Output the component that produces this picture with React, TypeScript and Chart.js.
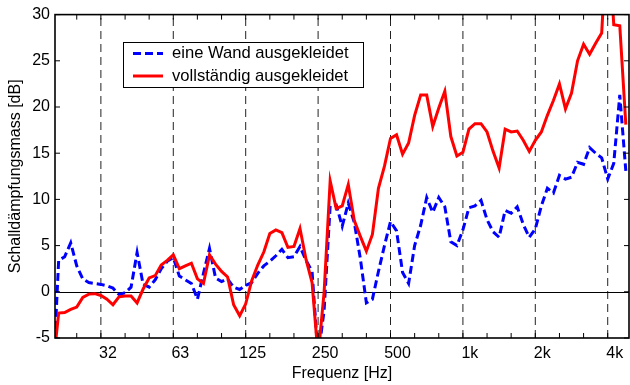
import React, { useEffect, useRef } from "react";
import { Chart, registerables } from "chart.js";

Chart.register(...registerables);

// 1/12-octave band index (relative to 1 kHz) of the first measured point
const FIRST_BAND = -68;
const BAND_STEP = 12; // bands per octave

const eineWand: number[] = [
  -10.5, 3.4, 3.8, 5.3, 2.8, 1.4, 1.0, 0.9, 0.8, 0.65, 0.4, -0.3, -0.1, 0.5, 4.25, 0.8,
  0.5, 1.3, 2.5, 3.3, 3.7, 1.7, 1.3, 0.9, -0.8, 2.0, 4.7, 1.5, 1.1, 1.4, 0.5, 0.25,
  0.7, 1.0, 2.0, 2.8, 3.3, 3.9, 4.6, 3.7, 3.8, 4.9, 3.4, 2.2, -7, -2, 9.3, 9.4,
  7.1, 9.6, 7.5, 3.6, -1.2, -0.8, 2.2, 5.0, 7.6, 6.6, 2.1, 0.9, 5.0, 7.2, 10.2, 8.6,
  10.2, 9.2, 5.4, 5.0, 6.7, 9.1, 9.3, 9.9, 7.8, 6.5, 5.9, 8.8, 8.5, 9.2, 7.3, 5.9,
  6.8, 9.3, 11.2, 10.7, 12.6, 12.2, 12.4, 14.0, 13.8, 15.6, 15.0, 14.5, 12.2, 13.9, 21.3, 13.1,
];

const vollstaendig: number[] = [
  -8.5, -2.3, -2.25, -1.9, -1.65, -0.6, -0.25, -0.2, -0.4, -0.8, -1.4, -0.55, -0.45, -0.45, -1.2, 0.3,
  1.5, 1.75, 2.9, 3.4, 4.0, 2.5, 2.8, 3.1, 1.4, 0.9, 4.0, 3.0, 2.2, 1.6, -1.4, -2.6,
  -1.3, 1.2, 2.9, 4.3, 6.3, 6.7, 6.4, 4.8, 4.9, 6.85, 3.5, 1.0, -7, 0, 12.0, 9.0,
  9.3, 11.6, 7.7, 6.0, 4.4, 6.2, 11.2, 13.6, 16.6, 17.0, 14.9, 16.1, 19.1, 21.3, 21.3, 17.9,
  19.9, 21.7, 16.8, 14.7, 15.1, 17.6, 18.2, 18.2, 17.3, 15.2, 13.4, 17.6, 17.3, 17.4, 16.4, 15.2,
  16.4, 17.3, 19.1, 20.7, 22.5, 19.8, 21.5, 25.0, 26.8, 25.7, 26.9, 28.0, 40, 28.9, 28.8, 18.1,
];

const seriesLabels = ["eine Wand ausgekleidet", "vollständig ausgekleidet"];

// octave grid lines and their tick labels
const octaveFreqs = [31.25, 62.5, 125, 250, 500, 1000, 2000, 4000];
const octaveLabels = ["32", "63", "125", "250", "500", "1k", "2k", "4k"];
// third-octave minor tick marks
const thirdOctaveFreqs = [
  24.8, 31.25, 39.4, 49.6, 62.5, 78.7, 99.2, 125, 157.5, 198.4, 250, 315,
  396.9, 500, 630, 793.7, 1000, 1260, 1587, 2000, 2520, 3175, 4000,
];

const X_MIN = 20.14;
const X_MAX = 4904;
const Y_MIN = -5;
const Y_MAX = 30;
const Y_STEP = 5;

const FONT = "'Liberation Sans', Arial, sans-serif";

const bandFreq = (i: number) => 1000 * Math.pow(2, (FIRST_BAND + i) / BAND_STEP);

const gridPlugin = {
  id: "matlabGrid",
  beforeDatasetsDraw(chart: any) {
    const { ctx, chartArea: a, scales } = chart;
    ctx.save();
    ctx.strokeStyle = "#222";
    ctx.lineWidth = 1;
    ctx.setLineDash([8, 5]);
    for (const f of octaveFreqs) {
      const x = scales.x.getPixelForValue(f);
      ctx.beginPath();
      ctx.moveTo(x, a.bottom);
      ctx.lineTo(x, a.top);
      ctx.stroke();
    }
    ctx.setLineDash([]);
    ctx.strokeStyle = "#000";
    const y0 = Math.round(scales.y.getPixelForValue(0)) + 0.5;
    ctx.beginPath();
    ctx.moveTo(a.left, y0);
    ctx.lineTo(a.right, y0);
    ctx.stroke();
    ctx.restore();
  },
};

const framePlugin = {
  id: "matlabFrame",
  afterDatasetsDraw(chart: any) {
    const { ctx, chartArea: a, scales } = chart;
    ctx.save();
    ctx.strokeStyle = "#000";
    ctx.lineWidth = 1;
    const tl = 5;
    for (const f of thirdOctaveFreqs) {
      const x = scales.x.getPixelForValue(f);
      ctx.beginPath();
      ctx.moveTo(x, a.bottom);
      ctx.lineTo(x, a.bottom - tl);
      ctx.moveTo(x, a.top);
      ctx.lineTo(x, a.top + tl);
      ctx.stroke();
    }
    for (let v = Y_MIN; v <= Y_MAX; v += Y_STEP) {
      const y = scales.y.getPixelForValue(v);
      ctx.beginPath();
      ctx.moveTo(a.left, y);
      ctx.lineTo(a.left + tl, y);
      ctx.moveTo(a.right, y);
      ctx.lineTo(a.right - tl, y);
      ctx.stroke();
    }
    ctx.lineWidth = 1.6;
    ctx.strokeRect(a.left, a.top, a.right - a.left, a.bottom - a.top);
    ctx.restore();
  },
};

const legendPlugin = {
  id: "boxLegend",
  afterDraw(chart: any) {
    const { ctx } = chart;
    const bx = 123, by = 42, bw = 240, bh = 45;
    ctx.save();
    ctx.fillStyle = "#fff";
    ctx.fillRect(bx, by, bw, bh);
    ctx.strokeStyle = "#000";
    ctx.lineWidth = 1;
    ctx.strokeRect(bx + 0.5, by + 0.5, bw, bh);
    const rows = [53.5, 76];
    chart.data.datasets.forEach((ds: any, i: number) => {
      const y = rows[i];
      ctx.strokeStyle = ds.borderColor;
      ctx.lineWidth = ds.borderWidth;
      ctx.setLineDash(ds.borderDash || []);
      ctx.beginPath();
      ctx.moveTo(bx + 10, y);
      ctx.lineTo(bx + 40, y);
      ctx.stroke();
      ctx.setLineDash([]);
      ctx.fillStyle = "#000";
      ctx.font = `16.6px ${FONT}`;
      ctx.textBaseline = "middle";
      ctx.textAlign = "left";
      ctx.fillText(ds.label, bx + 49, y);
    });
    ctx.restore();
  },
};

export default function App() {
  const ref = useRef<HTMLCanvasElement | null>(null);

  useEffect(() => {
    if (!ref.current) return;
    const toPoints = (vals: number[]) => vals.map((v, i) => ({ x: bandFreq(i), y: v }));
    const chart = new Chart(ref.current, {
      type: "line",
      data: {
        datasets: [
          {
            label: seriesLabels[0],
            data: toPoints(eineWand),
            borderColor: "#0000ff",
            borderWidth: 3,
            borderDash: [8, 4],
            pointRadius: 0,
            tension: 0,
            clip: 0,
            order: 2,
          },
          {
            label: seriesLabels[1],
            data: toPoints(vollstaendig),
            borderColor: "#ff0000",
            borderWidth: 3,
            pointRadius: 0,
            tension: 0,
            clip: 0,
            order: 1,
          },
        ],
      },
      options: {
        animation: false,
        responsive: false,
        devicePixelRatio: 1,
        layout: { padding: { left: 0, right: 1, top: 14, bottom: 0 } },
        plugins: { legend: { display: false }, tooltip: { enabled: false } },
        scales: {
          x: {
            type: "logarithmic",
            min: X_MIN,
            max: X_MAX,
            afterBuildTicks: (s: any) => {
              s.ticks = octaveFreqs.map((v) => ({ value: v }));
            },
            afterFit: (s: any) => {
              s.height = 47;
            },
            grid: { display: false, drawTicks: false },
            border: { display: false },
            ticks: {
              autoSkip: false,
              maxRotation: 0,
              minRotation: 0,
              padding: 6,
              labelOffset: 7,
              color: "#000",
              font: { family: FONT, size: 16 },
              callback: (_v: any, i: number) => octaveLabels[i],
            },
            title: {
              display: true,
              text: "Frequenz [Hz]",
              color: "#000",
              font: { family: FONT, size: 16 },
              padding: { top: 0, bottom: 2 },
            },
          },
          y: {
            type: "linear",
            min: Y_MIN,
            max: Y_MAX,
            afterFit: (s: any) => {
              s.width = 55;
            },
            grid: { display: false, drawTicks: false },
            border: { display: false },
            ticks: {
              stepSize: Y_STEP,
              padding: 5,
              color: "#000",
              font: { family: FONT, size: 16 },
            },
            title: {
              display: true,
              text: "Schalldämpfungsmass [dB]",
              color: "#000",
              font: { family: FONT, size: 16 },
              padding: { top: 6, bottom: 0 },
            },
          },
        },
      } as any,
      plugins: [gridPlugin, framePlugin, legendPlugin],
    });
    return () => chart.destroy();
  }, []);

  return (
    <div style={{ position: "fixed", left: 0, top: 0, width: 630, height: 385, background: "#fff" }}>
      <canvas ref={ref} width={630} height={385} style={{ display: "block" }} />
    </div>
  );
}
